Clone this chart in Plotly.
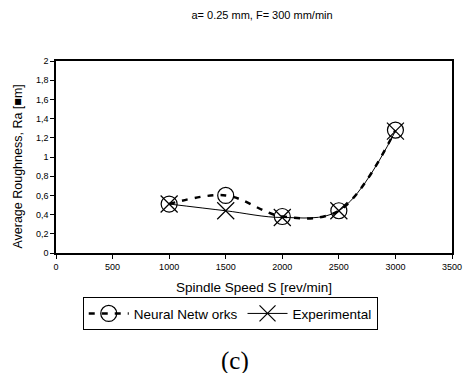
import plotly.graph_objects as go

speed = [1000, 1500, 2000, 2500, 3000]
ra_neural = [0.51, 0.60, 0.38, 0.44, 1.28]
ra_experimental = [0.51, 0.44, 0.37, 0.44, 1.27]
y_ticks = [0, 0.2, 0.4, 0.6, 0.8, 1.0, 1.2, 1.4, 1.6, 1.8, 2.0]
y_tick_labels = ["0", "0,2", "0,4", "0,6", "0,8", "1", "1,2", "1,4", "1,6", "1,8", "2"]
x_ticks = [0, 500, 1000, 1500, 2000, 2500, 3000, 3500]

font_sans = "Liberation Sans"
font_serif = "'Liberation Serif', 'DejaVu Serif', serif"

fig = go.Figure()
fig.add_trace(go.Scatter(
    x=speed, y=ra_neural, name="Neural Netw orks",
    mode="lines+markers",
    line=dict(shape="spline", smoothing=1.0, color="black", width=2.5, dash="6px,7px"),
    marker=dict(symbol="circle-open", size=16, color="black", line=dict(width=1.2, color="black")),
))
fig.add_trace(go.Scatter(
    x=speed, y=ra_experimental, name="Experimental",
    mode="lines+markers",
    line=dict(shape="spline", smoothing=1.0, color="black", width=1),
    marker=dict(symbol="x-thin-open", size=17, color="black", line=dict(width=1.2, color="black")),
))

fig.update_layout(
    width=473, height=373,
    margin=dict(l=56, r=11, t=61, b=120),
    paper_bgcolor="white", plot_bgcolor="white",
    font=dict(family=font_sans, color="black"),
    title=dict(text="a= 0.25 mm, F= 300 mm/min", x=0.554, xanchor="center",
               y=0.96, yanchor="middle", font=dict(size=11, family=font_sans, color="black")),
    showlegend=True,
    legend=dict(orientation="h", x=0.44, xanchor="center", y=-0.23, yanchor="top",
                bordercolor="black", borderwidth=1, font=dict(size=13.5, family=font_sans),
                bgcolor="white", itemwidth=40, tracegroupgap=0),
    xaxis=dict(range=[0, 3500], tickvals=x_ticks, showgrid=False, zeroline=False,
               showline=True, linecolor="black", linewidth=1.5, mirror=True,
               ticks="outside", ticklen=4, tickcolor="black",
               tickfont=dict(size=9, family=font_sans),
               title=dict(text="Spindle Speed S [rev/min]", font=dict(size=13.5, family=font_sans), standoff=12)),
    yaxis=dict(range=[0, 2], tickvals=y_ticks, ticktext=y_tick_labels, showgrid=False, zeroline=False,
               showline=True, linecolor="black", linewidth=1.5, mirror=True,
               ticks="outside", ticklen=4, tickcolor="black",
               tickfont=dict(size=9, family=font_sans)),
    annotations=[
        dict(text="Average Roughness, Ra [■m]", x=-0.096, y=0.45, xref="paper", yref="paper",
             textangle=-90, xanchor="center", yanchor="middle", showarrow=False,
             font=dict(size=12.5, family=font_sans, color="black")),
        dict(text="(c)", x=0.453, y=-0.56, xref="paper", yref="paper", yanchor="middle",
             showarrow=False, font=dict(size=25, family=font_serif, color="black")),
    ],
)

fig.write_html("out.html")
